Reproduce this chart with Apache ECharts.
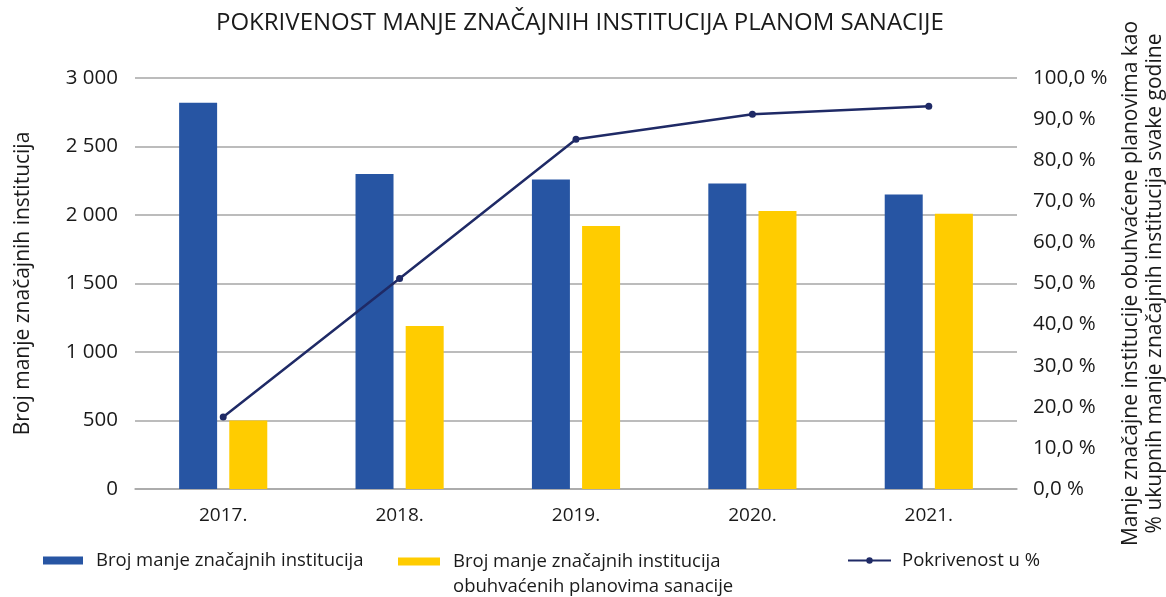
<!DOCTYPE html>
<html>
<head>
<meta charset="utf-8">
<style>
  html, body { margin: 0; padding: 0; background: #fff; }
  #chart { width: 1166px; height: 597px; }
</style>
<script src="https://cdn.jsdelivr.net/npm/echarts@6/dist/echarts.min.js"></script>
</head>
<body>
<div id="chart"></div>
<script>
// podaci
const years = ['2017.', '2018.', '2019.', '2020.', '2021.']
const brojInstitucija = [2820, 2300, 2260, 2230, 2150]
const obuhvaceneInstitucije = [500, 1190, 1920, 2030, 2010]
const pokrivenost = [17.5, 51.2, 85.1, 91.2, 93.1]

const nameBroj = 'Broj manje značajnih institucija'
const nameObuhvacene = 'Broj manje značajnih institucija\nobuhvaćenih planovima sanacije'
const namePokrivenost = 'Pokrivenost u %'

const font = 'Open Sans'
const grey = '#a6a6a6'
const txt = '#1a1a1a'

const chart = echarts.init(document.getElementById('chart'))

const legendText = { fontFamily: font, fontSize: 18.5, color: txt, lineHeight: 25 }

chart.setOption({
  animation: false,
  title: {
    text: 'POKRIVENOST MANJE ZNAČAJNIH INSTITUCIJA PLANOM SANACIJE',
    left: 211,
    top: 6,
    textStyle: { fontFamily: font, fontSize: 24, fontWeight: 'normal', color: txt }
  },
  legend: [
    {
      data: [nameBroj],
      left: 38,
      top: 543,
      icon: 'rect',
      itemWidth: 40,
      itemHeight: 8,
      textStyle: Object.assign({ padding: [0, 0, 0, 8] }, legendText)
    },
    {
      data: [nameObuhvacene],
      left: 393,
      top: 519,
      icon: 'rect',
      itemWidth: 42,
      itemHeight: 8,
      formatter: name => ' \n' + name,
      textStyle: Object.assign({ padding: [0, 0, 0, 8] }, legendText)
    },
    {
      data: [namePokrivenost],
      left: 842,
      top: 543,
      itemWidth: 43,
      itemHeight: 8,
      textStyle: Object.assign({ padding: [0, 0, 0, 6] }, legendText)
    }
  ],
  grid: { left: 135, right: 149, top: 78, bottom: 108, outerBoundsMode: 'none' },
  xAxis: {
    type: 'category',
    data: years,
    axisTick: { show: false },
    axisLine: { lineStyle: { color: grey, width: 1.5 } },
    axisLabel: { fontFamily: font, fontSize: 19, color: txt, margin: 17 }
  },
  yAxis: [
    {
      type: 'value',
      min: 0,
      max: 3000,
      interval: 500,
      name: 'Broj manje značajnih institucija',
      nameLocation: 'middle',
      nameRotate: 90,
      nameGap: 101,
      nameTextStyle: { fontFamily: font, fontSize: 21, color: txt },
      axisLine: { show: false },
      axisTick: { show: false },
      splitLine: { lineStyle: { color: grey, width: 1.5 } },
      axisLabel: {
        fontFamily: font, fontSize: 20.5, color: txt, margin: 17,
        formatter: v => String(v).replace(/\B(?=(\d{3})+(?!\d))/g, ' ')
      }
    },
    {
      type: 'value',
      min: 0,
      max: 100,
      interval: 10,
      name: 'Manje značajne institucije obuhvaćene planovima kao\n% ukupnih manje značajnih institucija svake godine',
      nameLocation: 'middle',
      nameRotate: 90,
      nameGap: 102,
      nameTextStyle: { fontFamily: font, fontSize: 21, color: txt, lineHeight: 24 },
      axisLine: { show: false },
      axisTick: { show: false },
      splitLine: { show: false },
      axisLabel: {
        fontFamily: font, fontSize: 20.5, color: txt, margin: 16,
        formatter: v => v.toFixed(1).replace('.', ',') + ' %'
      }
    }
  ],
  series: [
    {
      name: nameBroj,
      type: 'bar',
      data: brojInstitucija,
      barWidth: 38,
      barGap: '32%',
      itemStyle: { color: '#2755a3' }
    },
    {
      name: nameObuhvacene,
      type: 'bar',
      data: obuhvaceneInstitucije,
      barWidth: 38,
      itemStyle: { color: '#ffcc00' }
    },
    {
      name: namePokrivenost,
      type: 'line',
      yAxisIndex: 1,
      data: pokrivenost,
      symbol: 'circle',
      symbolSize: 7,
      lineStyle: { color: '#1f2a66', width: 2.5 },
      itemStyle: { color: '#1f2a66' }
    }
  ]
})
</script>
</body>
</html>
